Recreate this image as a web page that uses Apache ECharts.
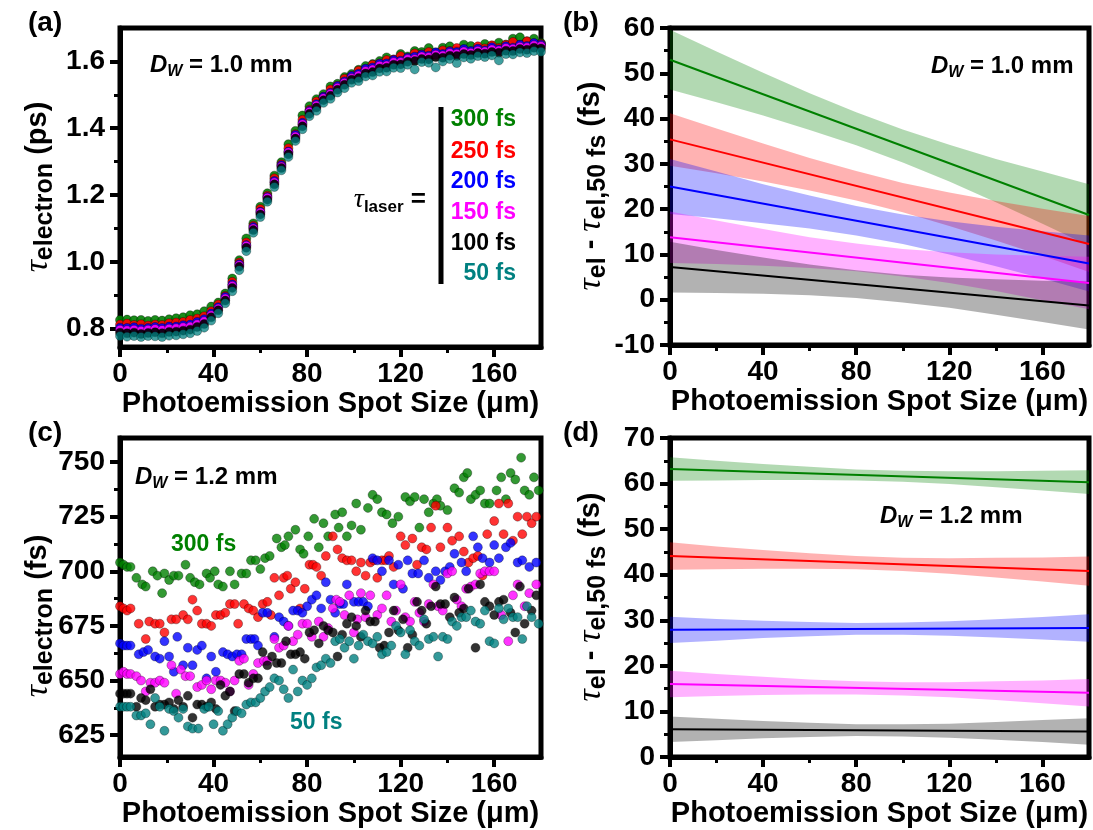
<!DOCTYPE html>
<html><head><meta charset="utf-8">
<script src="https://cdn.jsdelivr.net/npm/echarts@6/dist/echarts.min.js"></script>
<style>html,body{margin:0;padding:0;background:#fff}#c{width:1093px;height:830px}</style>
</head><body><div id="c"></div>
<script>
// ---------------- DATA ----------------
const laserLabels = ['300 fs','250 fs','200 fs','150 fs','100 fs','50 fs'];
const xTicks = [0,40,80,120,160];
const xMinor = [20,60,100,140];
const aYTicks = [0.8,1.0,1.2,1.4,1.6];
const aYMinor = [0.9,1.1,1.3,1.5];
const bYTicks = [-10,0,10,20,30,40,50,60];
const bYMinor = [-5,5,15,25,35,45,55];
const cYTicks = [625,650,675,700,725,750];
const cYMinor = [637.5,662.5,687.5,712.5,737.5];
const dYTicks = [0,10,20,30,40,50,60,70];
const dYMinor = [5,15,25,35,45,55,65];

// (a) D_W = 1.0 mm, tau_electron (ps)
const xA = [0,3,6,9,12,15,18,21,24,27,30,33,36,39,42,45,48,51,54,57,60,63,66,69,72,75,78,81,84,87,90,93,96,99,102,105,108,111,114,117,120,123,126,129,132,135,138,141,144,147,150,153,156,159,162,165,168,171,174,177,180];
const aY300 = [.826,.827,.825,.826,.823,.826,.824,.828,.831,.834,.840,.843,.852,.866,.878,.905,.950,1.005,1.070,1.115,1.165,1.205,1.258,1.298,1.352,1.392,1.438,1.466,1.487,1.502,1.525,1.533,1.553,1.562,1.575,1.586,1.592,1.601,1.612,1.605,1.622,1.615,1.631,1.628,1.640,1.627,1.641,1.645,1.632,1.650,1.646,1.638,1.652,1.647,1.656,1.650,1.668,1.672,1.660,1.668,1.655];
const aY250 = [.812,.815,.811,.813,.809,.812,.811,.816,.818,.820,.826,.830,.837,.852,.872,.898,.940,.998,1.058,1.108,1.158,1.198,1.250,1.292,1.340,1.382,1.425,1.455,1.480,1.494,1.516,1.527,1.548,1.556,1.572,1.577,1.590,1.594,1.604,1.606,1.616,1.610,1.624,1.621,1.628,1.625,1.633,1.631,1.640,1.636,1.630,1.645,1.639,1.648,1.640,1.650,1.658,1.649,1.660,1.654,1.652];
const aY200 = [.803,.802,.804,.800,.802,.805,.802,.806,.806,.810,.812,.820,.828,.845,.864,.895,.932,.993,1.050,1.104,1.150,1.194,1.242,1.289,1.330,1.380,1.416,1.452,1.472,1.494,1.506,1.526,1.540,1.556,1.563,1.578,1.582,1.593,1.594,1.604,1.602,1.611,1.614,1.620,1.617,1.627,1.622,1.630,1.628,1.637,1.631,1.638,1.633,1.642,1.636,1.645,1.641,1.650,1.646,1.655,1.650];
const aY150 = [.797,.795,.797,.794,.797,.799,.796,.800,.801,.804,.806,.813,.822,.840,.860,.890,.928,.990,1.048,1.100,1.148,1.192,1.238,1.285,1.328,1.375,1.412,1.449,1.468,1.490,1.503,1.521,1.536,1.550,1.558,1.571,1.576,1.587,1.588,1.598,1.598,1.607,1.607,1.615,1.613,1.620,1.618,1.625,1.623,1.630,1.626,1.632,1.630,1.636,1.633,1.640,1.638,1.644,1.642,1.648,1.646];
const aY100 = [.788,.786,.788,.784,.787,.789,.786,.790,.791,.794,.797,.805,.814,.834,.855,.884,.922,.985,1.042,1.095,1.142,1.186,1.232,1.281,1.322,1.369,1.406,1.443,1.462,1.484,1.497,1.515,1.530,1.545,1.550,1.564,1.568,1.579,1.581,1.590,1.591,1.599,1.601,1.607,1.606,1.613,1.611,1.617,1.616,1.622,1.619,1.625,1.623,1.628,1.626,1.632,1.631,1.637,1.635,1.641,1.639];
const aY50  = [.778,.776,.778,.775,.778,.777,.775,.779,.780,.783,.786,.793,.803,.824,.846,.876,.912,.975,1.032,1.087,1.134,1.180,1.224,1.274,1.314,1.362,1.397,1.436,1.452,1.476,1.488,1.507,1.520,1.536,1.541,1.555,1.558,1.569,1.570,1.581,1.580,1.590,1.576,1.598,1.596,1.582,1.600,1.607,1.595,1.612,1.608,1.616,1.613,1.618,1.603,1.622,1.621,1.627,1.625,1.631,1.629];

// (c) D_W = 1.2 mm, tau_electron (fs): [spot size, value]
const cP300 = [[0,704],[1.5,703],[3,702],[4.5,702],[7,697],[9.5,694],[11,693],[14,700],[16,698],[18,690],[19,699],[21,696],[23,698],[25,698],[28,703],[30,697],[32,695],[34,694],[37,699],[38.5,697],[40.5,700],[42,694],[44,693],[47,700],[49,694],[52,699],[54,699],[56,705],[58,705],[60,701],[62,706],[64,707],[67,715],[69,711],[70.5,712],[72,716],[75,719],[77,710],[78.5,708],[80.5,716],[83,724],[85,711],[87,722],[89,716],[92,726],[93.5,720],[95,727],[97,716],[99,721],[101,731],[103,719],[106,729],[108,735],[110,733],[112,727],[114,726],[116.5,722],[119,725],[122,734],[124,732],[126,734],[128,720],[130,733],[132,727],[134,731],[135.5,733],[137,730],[140,728],[143,738],[145,736],[147,743],[148.5,745],[150,733],[152,735],[154,737],[156,731],[158,731],[161,737],[163,743],[165,733],[167,745],[169,742],[171.5,752],[173,737],[175,735],[177,743],[179,737]];
const cP250 = [[0,684],[1.5,683],[3,682],[4.5,683],[8,676],[11,669],[12.5,677],[15,676],[17,676],[19,672],[22,678],[24,678],[27,680],[29,678],[31,687],[33,682],[35,676],[37,676],[39,675],[41,680],[43,680],[45,681],[47,685],[49,685],[50.5,676],[53,685],[55,683],[57,682],[59,679],[61,685],[63,686],[64.5,680],[66,697],[68,689],[70,697],[71.5,698],[73,692],[75,695],[77,683],[79,692],[81,703],[82.5,703],[84,702],[86,698],[88,707],[91,716],[93,710],[95,706],[97,705],[99,705],[101,700],[103,704],[105,698],[107,704],[108.5,705],[110,697],[112,705],[113.5,705],[115,707],[117,702],[120,716],[122,712],[125,715],[127,703],[129,711],[131,710],[133,720],[135,730],[137,711],[140,720],[142,714],[145,716],[147,709],[149,704],[151,706],[153,707],[155,698],[157,717],[160,723],[162,731],[164,717],[166,731],[168,714],[170,725],[172,717],[174,725],[176,722],[178,725]];
const cP200 = [[0,667],[1.5,666],[3,666],[4.5,666],[8,662],[10,663],[12,664],[15,661],[17,660],[19,668],[21,661],[23,654],[24.5,670],[27,657],[29,665],[31,657],[33,664],[35,666],[37,651],[39,661],[41,654],[44,663],[46,662],[48,661],[50,662],[52,662],[54,669],[56,669],[57.5,669],[59,666],[61,681],[63,681],[66,670],[68,679],[70,677],[72,675],[74,682],[76,682],[78,681],[80,684],[82,687],[84,689],[86,683],[88,695],[90,687],[92,681],[94,685],[95.5,685],[97,694],[100,686],[102,686],[104,686],[106,684],[108,706],[110,705],[112,700],[115,705],[117,694],[119,703],[121,692],[123,705],[125,699],[127.5,699],[130,705],[132,697],[135,700],[137,696],[139,700],[141,702],[143,708],[146,704],[148,700],[151,716],[153,711],[155,706],[158,704],[160,712],[162,706],[165,711],[167,713],[170,704],[172,705],[175,702],[178,704]];
const cP150 = [[0,653],[1.5,654],[3,653],[4.5,653],[7,652],[9,650],[11,645],[13,649],[15,649],[17,650],[19,649],[22,657],[24,644],[26,655],[28,652],[30,652],[33,647],[35,648],[37,650],[39,646],[41,650],[43,650],[45,649],[47,645],[49,650],[51,659],[53,660],[55,648],[57,653],[59,658],[61.5,659],[63,659],[66,669],[68,665],[70,666],[72,675],[74,668],[76,671],[78,676],[80,676],[82,670],[85,677],[87,670],[89,674],[91,683],[92.5,687],[94,686],[96,680],[98,689],[100,672],[101.5,678],[103,690],[105,679],[107,689],[110,680],[112,683],[114,689],[116,677],[118,682],[120,694],[122,679],[124,677],[126,686],[128,681],[130,677],[132,685],[134,694],[136,684],[138,682],[140,699],[142,700],[144,687],[146,684],[148,692],[150,693],[152,694],[154,699],[156,700],[158,700],[160,700],[163,680],[166,668],[168,689],[170,694],[173,684],[175,690],[178,694]];
const cP100 = [[0,644],[1.5,644],[3,644],[4.5,644],[7,638],[9,642],[11,641],[13,646],[15,638],[17,639],[19,639],[21,640],[23,637],[25,641],[27,638],[29,643],[31,633],[33,639],[35,639],[37,638],[39,640],[41,637],[43,648],[45,643],[47,645],[49,636],[51,653],[53,653],[55,649],[57,651],[59,651],[61,663],[63,657],[65,661],[67,658],[69,658],[71,668],[73,662],[75,662],[77,663],[79,660],[81,672],[83,673],[85,667],[87,675],[89,673],[91,672],[93,661],[95,671],[97,676],[99,679],[101,675],[103,670],[105,682],[107,677],[109,677],[111,665],[113,666],[115,672],[117,682],[119,673],[121,678],[123,665],[125,671],[127,686],[129,682],[131,676],[133,684],[135,693],[137,685],[139,685],[141,679],[143,688],[145,681],[147,683],[149,692],[152,665],[154,694],[156,686],[158,684],[160,680],[162,686],[164,687],[167,681],[169,672],[171,693],[173,676],[176,682],[178,689]];
const cP50 = [[0,638],[1.5,638],[3,638],[4.5,638],[7,634],[9,634],[11,635],[13,630],[15,642],[17,638],[19,627],[21,637],[23,636],[25,633],[27,637],[29,629],[31,628],[33.5,628],[36,637],[38,638],[40,630],[42,636],[44,627],[46,630],[48,633],[50,636],[52,635],[54,639],[56,640],[58,640],[60,642],[62,645],[64,647],[66,651],[68,650],[70,646],[72,642],[74,655],[76,645],[78,650],[80,648],[82,651],[84,656],[86,657],[88,660],[90,658],[92,668],[94,669],[96,665],[98,668],[100,660],[102,666],[104,671],[106,668],[108,667],[110,670],[112,662],[114,663],[116,666],[118,675],[120,672],[122,662],[124,673],[126,668],[128,666],[130,678],[132,669],[134,670],[136,661],[138,670],[140,669],[142,677],[144,675],[146,679],[148,679],[150,682],[152,677],[154,676],[156,682],[158,668],[160,667],[162,683],[164,678],[166,683],[168,679],[170,679],[172,669],[174,684],[176,679],[179,676]];

// (b),(d) fitted lines (value at spot size 0 and 180) and confidence bands
const lineX = [0,180];
const bLineStart = [53.0,35.4,25.0,13.8,7.2];
const bLineEnd   = [18.7,12.3,8.0,3.7,-1.3];
const dLineStart = [63.2,44.1,27.9,16.0,6.1];
const dLineEnd   = [60.3,40.8,28.3,14.1,5.6];
const bandX = [0,20,40,60,80,100,120,140,160,180];
const bUp300 = [59.6,54.8,50.1,45.6,41.4,37.6,34.2,31.1,28.3,25.5];
const bLo300 = [46.4,43.6,40.7,37.5,34.1,30.3,26.1,21.5,16.8,11.9];
const bUp250 = [41.2,37.8,34.5,31.3,28.4,25.8,23.7,21.8,20.1,18.5];
const bLo250 = [29.6,27.9,26.1,24.1,21.9,19.3,16.3,13.1,9.7,6.1];
const bUp200 = [31.1,28.3,25.5,23.0,20.7,18.8,17.3,16.1,15.1,14.2];
const bLo200 = [18.9,18.0,16.9,15.7,14.2,12.3,10.0,7.4,4.7,1.8];
const bUp150 = [19.5,17.5,15.6,13.8,12.4,11.2,10.5,10.0,9.7,9.5];
const bLo150 = [8.1,7.9,7.5,7.0,6.3,5.1,3.7,1.9,-0.1,-2.1];
const bUp100 = [12.8,11.0,9.3,7.8,6.5,5.5,4.9,4.5,4.2,4.0];
const bLo100 = [1.6,1.5,1.3,1.0,0.4,-0.6,-1.8,-3.3,-4.9,-6.6];
const dUp300 = [65.8,65.0,64.3,63.7,63.1,62.8,62.7,62.7,62.8,62.9];
const dLo300 = [60.6,60.7,60.8,60.8,60.7,60.4,59.9,59.2,58.5,57.7];
const dUp250 = [47.1,46.2,45.4,44.7,44.1,43.7,43.6,43.7,43.8,44.0];
const dLo250 = [41.1,41.2,41.3,41.3,41.2,40.8,40.2,39.4,38.5,37.6];
const dUp200 = [30.8,30.3,29.9,29.6,29.4,29.5,29.8,30.2,30.7,31.3];
const dLo200 = [25.0,25.5,26.1,26.5,26.8,26.8,26.6,26.2,25.8,25.3];
const dUp150 = [18.9,18.2,17.6,17.0,16.6,16.4,16.4,16.6,16.8,17.1];
const dLo150 = [13.1,13.4,13.6,13.7,13.7,13.5,13.1,12.5,11.8,11.1];
const dUp100 = [8.9,8.4,7.9,7.5,7.2,7.2,7.3,7.7,8.1,8.5];
const dLo100 = [3.3,3.7,4.1,4.4,4.6,4.5,4.2,3.8,3.3,2.7];

// ---------------- STYLE / LAYOUT ----------------
const COLORS = ['#008000','#ff0000','#0000ff','#ff00ff','#000000','#008080'];
const BANDS = ['rgba(0,128,0,0.3)','rgba(255,0,0,0.3)','rgba(0,0,255,0.3)','rgba(255,0,255,0.3)','rgba(0,0,0,0.3)'];
const FONT = '"Liberation Sans", Arial, sans-serif';
const SERIF = '"Liberation Serif", "DejaVu Serif", serif';

const gridPos = [
  {left:120, top:28, width:421, height:319},
  {left:670, top:28, width:419, height:317},
  {left:120, top:438, width:421, height:319},
  {left:670, top:438, width:419, height:319}
];
const yCfg = [
  {min:0.745, max:1.7, major:aYTicks, minor:aYMinor, fmt:function(v){return v.toFixed(1);}},
  {min:-10, max:60, major:bYTicks, minor:bYMinor, fmt:function(v){return String(v);}},
  {min:615, max:761, major:cYTicks, minor:cYMinor, fmt:function(v){return String(v);}},
  {min:0, max:70, major:dYTicks, minor:dYMinor, fmt:function(v){return String(v);}}
];

const grids = gridPos.map(function(p){
  return Object.assign({show:true, borderColor:'#000', borderWidth:5, backgroundColor:'transparent'}, p);
});
const labelStyle = {color:'#000', fontSize:28, fontWeight:'bold', fontFamily:FONT};
const xAxes = [], yAxes = [];
for (let g = 0; g < 4; g++) {
  xAxes.push({type:'value', gridIndex:g, min:0, max:180, position:'bottom',
    axisLine:{show:true, onZero:false, lineStyle:{color:'#000', width:5}},
    axisTick:{show:true, inside:false, length:10, customValues:xTicks, lineStyle:{color:'#000', width:4}},
    axisLabel:Object.assign({show:true, customValues:xTicks, margin:27, verticalAlign:'middle'}, labelStyle),
    splitLine:{show:false}});
  xAxes.push({type:'value', gridIndex:g, min:0, max:180, position:'bottom',
    axisLine:{show:false, onZero:false},
    axisTick:{show:true, inside:false, length:6, customValues:xMinor, lineStyle:{color:'#000', width:3}},
    axisLabel:{show:false}, splitLine:{show:false}});
  const c = yCfg[g];
  yAxes.push({type:'value', gridIndex:g, min:c.min, max:c.max, position:'left',
    axisLine:{show:true, onZero:false, lineStyle:{color:'#000', width:5}},
    axisTick:{show:true, inside:false, length:10, customValues:c.major, lineStyle:{color:'#000', width:4}},
    axisLabel:Object.assign({show:true, customValues:c.major, margin:15, formatter:c.fmt}, labelStyle),
    splitLine:{show:false}});
  yAxes.push({type:'value', gridIndex:g, min:c.min, max:c.max, position:'left',
    axisLine:{show:false, onZero:false},
    axisTick:{show:true, inside:false, length:6, customValues:c.minor, lineStyle:{color:'#000', width:3}},
    axisLabel:{show:false}, splitLine:{show:false}});
}

const series = [];
// (a)
[aY300,aY250,aY200,aY150,aY100,aY50].forEach(function(ys,i){
  series.push({type:'scatter', xAxisIndex:0, yAxisIndex:0, silent:true, z:3,
    data: xA.map(function(x,j){return [x, ys[j]];}),
    symbol:'circle', symbolSize:9,
    itemStyle:{color:COLORS[i], borderColor:'rgba(0,0,0,0.55)', borderWidth:0.7, opacity:(i === 5 ? 0.75 : 0.9)}});
});
// (c)
[cP300,cP250,cP200,cP150,cP100,cP50].forEach(function(pts,i){
  series.push({type:'scatter', xAxisIndex:4, yAxisIndex:4, silent:true, z:3,
    data: pts, symbol:'circle', symbolSize:9,
    itemStyle:{color:COLORS[i], borderColor:'rgba(0,0,0,0.55)', borderWidth:0.7}});
});
function band(axisIdx, up, lo, color){
  return {type:'custom', xAxisIndex:axisIdx, yAxisIndex:axisIdx, silent:true, z:1,
    data:[[bandX[0], lo[0]]],
    renderItem:function(params, api){
      const pts = [];
      for (let i = 0; i < bandX.length; i++) pts.push(api.coord([bandX[i], up[i]]));
      for (let i = bandX.length - 1; i >= 0; i--) pts.push(api.coord([bandX[i], lo[i]]));
      return {type:'polygon', shape:{points:pts}, style:{fill:color}};
    }};
}
const bBands = [[bUp300,bLo300],[bUp250,bLo250],[bUp200,bLo200],[bUp150,bLo150],[bUp100,bLo100]];
const dBands = [[dUp300,dLo300],[dUp250,dLo250],[dUp200,dLo200],[dUp150,dLo150],[dUp100,dLo100]];
bBands.forEach(function(b,i){ series.push(band(2, b[0], b[1], BANDS[i])); });
dBands.forEach(function(b,i){ series.push(band(6, b[0], b[1], BANDS[i])); });
for (let i = 0; i < 5; i++) {
  series.push({type:'line', xAxisIndex:2, yAxisIndex:2, silent:true, z:4, showSymbol:false,
    data:[[lineX[0], bLineStart[i]],[lineX[1], bLineEnd[i]]], lineStyle:{color:COLORS[i], width:2}});
  series.push({type:'line', xAxisIndex:6, yAxisIndex:6, silent:true, z:4, showSymbol:false,
    data:[[lineX[0], dLineStart[i]],[lineX[1], dLineEnd[i]]], lineStyle:{color:COLORS[i], width:2}});
}

// ---------------- TEXT ----------------
function T(x, y, text, opt){
  return {type:'text', x:x, y:y, rotation:opt.rotation||0, z:10, silent:true,
    style:Object.assign({text:text, fill:'#000', align:'left', verticalAlign:'middle',
      fontFamily:FONT, fontWeight:'bold', fontSize:28}, opt.style||{})};
}
const richY = {
  t:{fontFamily:SERIF, fontStyle:'italic', fontSize:34, lineHeight:40, verticalAlign:'middle', fill:'#000'},
  s:{fontFamily:FONT, fontWeight:'bold', fontSize:25, lineHeight:25, verticalAlign:'bottom', fill:'#000'},
  m:{fontFamily:FONT, fontWeight:'bold', fontSize:29, lineHeight:40, verticalAlign:'middle', fill:'#000'}
};
const richD = {
  d:{fontFamily:FONT, fontWeight:'bold', fontStyle:'italic', fontSize:24, lineHeight:30, verticalAlign:'middle', fill:'#000'},
  w:{fontFamily:FONT, fontWeight:'bold', fontStyle:'italic', fontSize:16, lineHeight:17, verticalAlign:'bottom', fill:'#000'},
  m:{fontFamily:FONT, fontWeight:'bold', fontSize:24, lineHeight:30, verticalAlign:'middle', fill:'#000'}
};
const graphics = [];
// panel labels
[['(a)',28,23],['(b)',563,23],['(c)',28,433],['(d)',563,433]].forEach(function(p){
  graphics.push(T(p[1], p[2], p[0], {style:{fontSize:28}}));
});
// x-axis titles
gridPos.forEach(function(p){
  graphics.push(T(p.left + p.width/2, p.top + p.height + 57, 'Photoemission Spot Size (\u03bcm)', {style:{align:'center', fontSize:29}}));
});
// y-axis titles
graphics.push(T(38, 187, '{t|\u03c4}{s|electron}{m| (ps)}', {rotation:Math.PI/2, style:{align:'center', rich:richY}}));
graphics.push(T(38, 616, '{t|\u03c4}{s|electron}{m| (fs)}', {rotation:Math.PI/2, style:{align:'center', rich:richY}}));
graphics.push(T(591, 186, '{t|\u03c4}{s|el}{m| - }{t|\u03c4}{s|el,50 fs}{m| (fs)}', {rotation:Math.PI/2, style:{align:'center', rich:richY}}));
graphics.push(T(591, 597, '{t|\u03c4}{s|el}{m| - }{t|\u03c4}{s|el,50 fs}{m| (fs)}', {rotation:Math.PI/2, style:{align:'center', rich:richY}}));
// D_W annotations
[[150,65,'1.0'],[931,66,'1.0'],[135,477,'1.2'],[880,516,'1.2']].forEach(function(p){
  graphics.push(T(p[0], p[1], '{d|D}{w|W}{m| = ' + p[2] + ' mm}', {style:{rich:richD}}));
});
// legend in (a)
graphics.push({type:'rect', z:10, silent:true, shape:{x:438.5, y:107, width:5, height:177}, style:{fill:'#000'}});
const legendY = [120,151.5,182,213,243.5,274];
laserLabels.forEach(function(t,i){
  graphics.push(T(516, legendY[i], t, {style:{align:'right', fontSize:23, fill:COLORS[i]}}));
});
graphics.push(T(426, 200, '{t|\u03c4}{s|laser}{m| =}', {style:{align:'right', rich:{
  t:{fontFamily:SERIF, fontStyle:'italic', fontSize:28, lineHeight:32, verticalAlign:'middle', fill:'#000'},
  s:{fontFamily:FONT, fontWeight:'bold', fontSize:17, lineHeight:18, verticalAlign:'bottom', fill:'#000'},
  m:{fontFamily:FONT, fontWeight:'bold', fontSize:26, lineHeight:32, verticalAlign:'middle', fill:'#000'}
}}}));
// labels in (c)
graphics.push(T(171, 545, laserLabels[0], {style:{fontSize:23, fill:COLORS[0]}}));
graphics.push(T(290, 723, laserLabels[5], {style:{fontSize:23, fill:COLORS[5]}}));

const chart = echarts.init(document.getElementById('c'), null, {renderer:'canvas'});
chart.setOption({
  animation:false,
  backgroundColor:'#fff',
  grid:grids,
  xAxis:xAxes,
  yAxis:yAxes,
  series:series,
  graphic:graphics
});
</script></body></html>
